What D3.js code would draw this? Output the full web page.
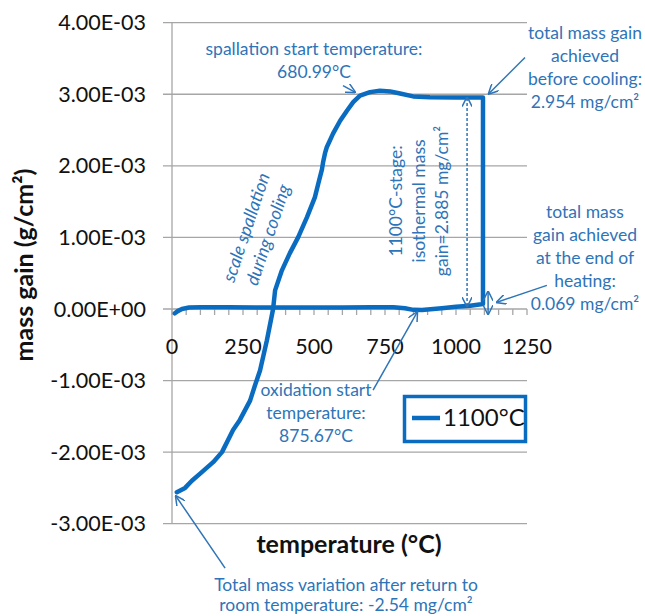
<!DOCTYPE html>
<html>
<head>
<meta charset="utf-8">
<script src="https://cdn.jsdelivr.net/npm/d3@7"></script>
<style>
  body { margin: 0; background: #fff; }
  svg { font-family: Lato, "Open Sans", sans-serif; }
</style>
</head>
<body>
<div id="chart"></div>
<script>
// temperature (°C) and mass gain (mg/cm², shown on the axis in g/cm²)
var temps = [10, 20, 35, 60, 100, 200, 300, 400, 500, 600, 700, 780, 820, 850, 880, 950, 1000, 1050, 1095,
             1095, 1000, 908, 849, 803, 768, 732, 697, 662, 638, 616, 592, 567, 545, 539, 532, 528, 515, 503,
             475, 444, 415, 387, 363, 356, 334, 310, 292, 275, 239, 215, 176, 145, 99, 70, 46, 17];
var mass = [-0.06, -0.03, 0.0, 0.02, 0.025, 0.025, 0.022, 0.022, 0.022, 0.022, 0.025, 0.025, 0.01, -0.012, -0.015, 0.01, 0.03, 0.045, 0.069,
            2.954, 2.955, 2.96, 2.97, 3.01, 3.04, 3.05, 3.03, 2.98, 2.89, 2.77, 2.63, 2.45, 2.26, 2.18, 2.05, 1.95, 1.75, 1.56,
            1.28, 1.0, 0.78, 0.54, 0.26, 0.0, -0.44, -0.86, -1.07, -1.28, -1.55, -1.69, -2.0, -2.14, -2.3, -2.4, -2.5, -2.56];
var seriesName = '1100°C';
var yTicks = [-3, -2, -1, 0, 1, 2, 3, 4];
var xTicks = [0, 250, 500, 750, 1000, 1250];

var width = 645, height = 616;
var lineColor = '#0a6cc0';
var noteColor = '#2e74b8';
var gridColor = '#a6a6a6';
var noteSize = '17.5px';

var svg = d3.select('#chart').append('svg')
            .attr('width', width)
            .attr('height', height);

var x = d3.scaleLinear().domain([0, 1250]).range([172, 527]);
var y = d3.scaleLinear().domain([-3, 4]).range([523.7, 22.7]);

function sciLabel(d) {
    if (d === 0) return '0.00E+00';
    var e = Math.floor(Math.log10(Math.abs(d / 1000)));
    var m = (d / 1000) / Math.pow(10, e);
    var s = e < 0 ? '-' : '+';
    var ae = Math.abs(e);
    return m.toFixed(2) + 'E' + s + (ae < 10 ? '0' : '') + ae;
}

// arrowheads
var defs = svg.append('defs');
defs.append('marker')
    .attr('id', 'head')
    .attr('viewBox', '0 0 10 10')
    .attr('refX', 9).attr('refY', 5)
    .attr('markerWidth', 10).attr('markerHeight', 10)
    .attr('markerUnits', 'userSpaceOnUse')
    .attr('orient', 'auto-start-reverse')
    .append('path')
    .attr('d', 'M0,0 L10,5 L0,10')
    .attr('fill', 'none')
    .attr('stroke', noteColor)
    .attr('stroke-width', 1.5);

// horizontal gridlines
svg.append('g').selectAll('line')
   .data(yTicks)
   .enter().append('line')
   .attr('x1', 163).attr('x2', x(1250))
   .attr('y1', function (d) { return y(d); })
   .attr('y2', function (d) { return y(d); })
   .attr('stroke', gridColor)
   .attr('stroke-width', 1.3);

// y axis line
svg.append('line')
   .attr('x1', x(0)).attr('x2', x(0))
   .attr('y1', y(4)).attr('y2', y(-3))
   .attr('stroke', gridColor).attr('stroke-width', 1.3);

// x axis ticks on the zero line
svg.append('g').selectAll('line')
   .data(d3.range(0, 1251, 50))
   .enter().append('line')
   .attr('x1', function (d) { return x(d); })
   .attr('x2', function (d) { return x(d); })
   .attr('y1', y(0)).attr('y2', y(0) + 6)
   .attr('stroke', gridColor).attr('stroke-width', 1.3);

// y tick labels
svg.append('g').selectAll('text')
   .data(yTicks)
   .enter().append('text')
   .attr('x', 146)
   .attr('y', function (d) { return y(d); })
   .attr('dy', '0.35em')
   .attr('text-anchor', 'end')
   .style('font-size', '21.5px')
   .attr('fill', '#111')
   .text(sciLabel);

// x tick labels
svg.append('g').selectAll('text')
   .data(xTicks)
   .enter().append('text')
   .attr('x', function (d) { return x(d); })
   .attr('y', y(0) + 37)
   .attr('dy', '0.35em')
   .attr('text-anchor', 'middle')
   .style('font-size', '21.5px')
   .attr('fill', '#111')
   .text(function (d) { return d; });

// axis titles
svg.append('text')
   .attr('transform', 'translate(33,265) rotate(-90)')
   .attr('text-anchor', 'middle')
   .style('font-size', '25px').style('font-weight', 'bold')
   .attr('fill', '#111')
   .text('mass gain (g/cm²)');

svg.append('text')
   .attr('x', 349).attr('y', 553)
   .attr('text-anchor', 'middle')
   .style('font-size', '25px').style('font-weight', 'bold')
   .attr('fill', '#111')
   .text('temperature (°C)');

// the curve
var line = d3.line()
             .x(function (d) { return x(d[0]); })
             .y(function (d) { return y(d[1]); });

svg.append('path')
   .datum(d3.zip(temps, mass))
   .attr('d', line)
   .attr('fill', 'none')
   .attr('stroke', lineColor)
   .attr('stroke-width', 4.5)
   .attr('stroke-linejoin', 'round')
   .attr('stroke-linecap', 'round');

// annotation arrows, in data units
var arrows = [
    {'from': [602, 3.12], 'to': [644, 3.03]},
    {'from': [1243, 3.515], 'to': [1116, 3.01]},
    {'from': [1320, 0.33], 'to': [1144, 0.094]},
    {'from': [708, -1.135], 'to': [863, -0.046]},
    {'from': [187, -3.62], 'to': [14, -2.616]},
    {'from': [1039, 0.04], 'to': [1039, 2.954], 'both': true, 'dash': '3,2'},
    {'from': [1113, -0.07], 'to': [1113, 0.24], 'both': true}
];

svg.append('g').selectAll('line')
   .data(arrows)
   .enter().append('line')
   .attr('x1', function (d) { return x(d.from[0]); })
   .attr('y1', function (d) { return y(d.from[1]); })
   .attr('x2', function (d) { return x(d.to[0]); })
   .attr('y2', function (d) { return y(d.to[1]); })
   .attr('stroke', noteColor)
   .attr('stroke-width', 1.5)
   .attr('stroke-dasharray', function (d) { return d.dash || null; })
   .attr('marker-end', 'url(#head)')
   .attr('marker-start', function (d) { return d.both ? 'url(#head)' : null; });

// annotation texts
var notes = [
    {'x': 314, 'y': 49, 'gap': 23, 'lines': ['spallation start temperature:', '680.99°C']},
    {'x': 585, 'y': 33, 'gap': 23, 'lines': ['total mass gain', 'achieved', 'before cooling:', '2.954 mg/cm²']},
    {'x': 585, 'y': 212, 'gap': 23, 'lines': ['total mass', 'gain achieved', 'at the end of', 'heating:', '0.069 mg/cm²']},
    {'x': 316, 'y': 390, 'gap': 23, 'lines': ['oxidation start', 'temperature:', '875.67°C']},
    {'x': 346, 'y': 585, 'gap': 20, 'lines': ['Total mass variation after return to', 'room temperature: -2.54 mg/cm²']}
];

notes.forEach(function (n) {
    svg.append('g').selectAll('text')
       .data(n.lines)
       .enter().append('text')
       .attr('x', n.x)
       .attr('y', function (d, i) { return n.y + i * n.gap; })
       .attr('dy', '0.35em')
       .attr('text-anchor', 'middle')
       .style('font-size', noteSize)
       .attr('fill', noteColor)
       .text(function (d) { return d; });
});

// rotated: isothermal stage
var stage = svg.append('g').attr('transform', 'translate(419,201) rotate(-90)');
stage.selectAll('text')
     .data(['1100°C-stage:', 'isothermal mass', 'gain=2.885 mg/cm²'])
     .enter().append('text')
     .attr('x', 0)
     .attr('y', function (d, i) { return (i - 1) * 23; })
     .attr('dy', '0.35em')
     .attr('text-anchor', 'middle')
     .style('font-size', noteSize)
     .attr('fill', noteColor)
     .text(function (d) { return d; });

// rotated italic: spallation during cooling
var spall = svg.append('g').attr('transform', 'translate(257,231) rotate(-71.5)');
spall.selectAll('text')
     .data(['scale spallation', 'during cooling'])
     .enter().append('text')
     .attr('x', 0)
     .attr('y', function (d, i) { return (i - 0.5) * 23; })
     .attr('dy', '0.35em')
     .attr('text-anchor', 'middle')
     .style('font-size', '18px')
     .style('font-style', 'italic')
     .attr('fill', noteColor)
     .text(function (d) { return d; });

// legend
var legend = svg.append('g');
legend.append('rect')
      .attr('x', 404.5).attr('y', 396.5)
      .attr('width', 121).attr('height', 45)
      .attr('fill', '#fff')
      .attr('stroke', lineColor)
      .attr('stroke-width', 3.5);
legend.append('line')
      .attr('x1', 412).attr('x2', 440)
      .attr('y1', 418).attr('y2', 418)
      .attr('stroke', lineColor)
      .attr('stroke-width', 4.5);
legend.append('text')
      .attr('x', 443).attr('y', 418)
      .attr('dy', '0.35em')
      .style('font-size', '24px')
      .attr('fill', '#111')
      .text(seriesName);
</script>
</body>
</html>
